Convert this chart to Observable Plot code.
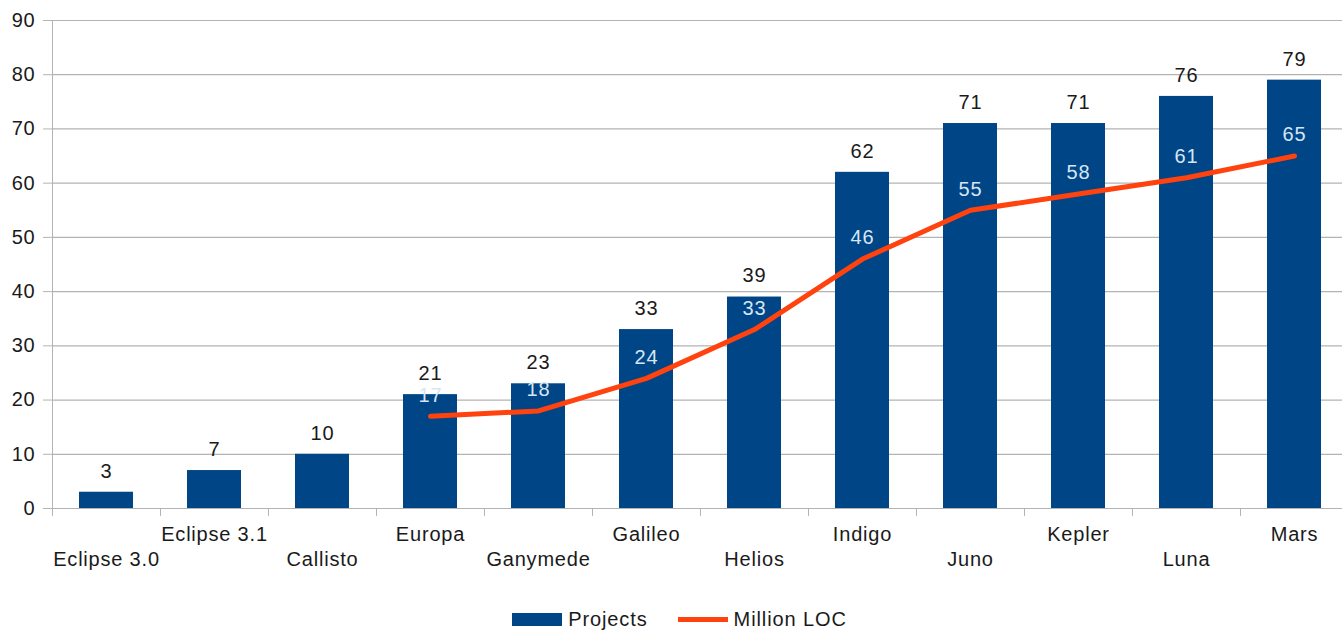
<!DOCTYPE html>
<html>
<head>
<meta charset="utf-8">
<script src="https://cdn.jsdelivr.net/npm/d3@7"></script>
<script src="https://cdn.jsdelivr.net/npm/@observablehq/plot@0.6"></script>
<style>
  html, body { margin: 0; padding: 0; background: #fff; overflow: hidden; }
  body { width: 1342px; font-family: "Liberation Sans", Arial, sans-serif; }
  #legend { display: flex; justify-content: center; align-items: center; height: 22px; margin-top: 28px; font-size: 20px; letter-spacing: 0.9px; color: #1a1a1a; padding-left: 17px; }
  .item { display: flex; align-items: center; margin: 0 15px; }
  .sw { display: inline-block; width: 50px; margin-right: 6px; }
</style>
</head>
<body>
<div id="chart"></div>
<div id="legend">
  <span class="item"><span class="sw" style="height:13px;background:#004586"></span>Projects</span>
  <span class="item"><span class="sw" style="height:5px;background:#ff420e"></span>Million LOC</span>
</div>
<script>
const categories = ["Eclipse 3.0", "Eclipse 3.1", "Callisto", "Europa", "Ganymede", "Galileo", "Helios", "Indigo", "Juno", "Kepler", "Luna", "Mars"];
const projects = [3, 7, 10, 21, 23, 33, 39, 62, 71, 71, 76, 79];
const millionLOC = [null, null, null, 17, 18, 24, 33, 46, 55, 58, 61, 65];
const yTicks = [0, 10, 20, 30, 40, 50, 60, 70, 80, 90];

const bars = categories.map((c, i) => ({cat: c, value: projects[i]}));
const loc = categories.map((c, i) => ({cat: c, value: millionLOC[i]})).filter(d => d.value != null);
const upperLabels = categories.filter((c, i) => i % 2 === 1);
const lowerLabels = categories.filter((c, i) => i % 2 === 0);

const W = 1342, marginLeft = 52, marginRight = -6;
const step = (W - marginLeft - marginRight) / categories.length;

const chart = Plot.plot({
  width: W,
  height: 580,
  marginTop: 20,
  marginBottom: 72,
  marginLeft: marginLeft,
  marginRight: marginRight,
  style: {fontFamily: "'Liberation Sans', Arial, sans-serif", fontSize: "20px", letterSpacing: "0.8px", color: "#1a1a1a", background: "#fff", overflow: "hidden"},
  x: {domain: categories, paddingInner: 0.5, paddingOuter: 0.25, axis: null},
  y: {domain: [0, 90], axis: null},
  marks: [
    Plot.ruleY(yTicks, {stroke: "#b3b3b3", strokeWidth: 1.2, strokeOpacity: 1}),
    Plot.axisY(yTicks, {label: null, tickSize: 9, tickPadding: 8, stroke: "#b3b3b3", fill: "#1a1a1a", fontSize: 20, tickFormat: d => d}),
    Plot.ruleX(categories, {x: d => d, dx: -step / 2, y1: 0, y2: -1.45, stroke: "#b3b3b3"}),
    Plot.ruleX([categories[0]], {x: d => d, dx: -step / 2, y1: 0, y2: 90, stroke: "#b3b3b3"}),
    Plot.barY(bars, {x: "cat", y: "value", fill: "#004586"}),
    Plot.text(bars, {x: "cat", y: "value", text: d => String(d.value), dy: -21, fill: "#1a1a1a", fontSize: 20}),
    Plot.line(loc, {x: "cat", y: "value", stroke: "#ff420e", strokeWidth: 5, curve: "linear", strokeLinejoin: "round"}),
    Plot.text(loc, {x: "cat", y: "value", text: d => String(d.value), dy: -21, fill: "#d6e6f5", fontSize: 20}),
    Plot.text(upperLabels, {x: d => d, frameAnchor: "bottom", dy: 32, fill: "#1a1a1a", fontSize: 20}),
    Plot.text(lowerLabels, {x: d => d, frameAnchor: "bottom", dy: 57, fill: "#1a1a1a", fontSize: 20})
  ]
});
document.getElementById("chart").appendChild(chart);
</script>
</body>
</html>
